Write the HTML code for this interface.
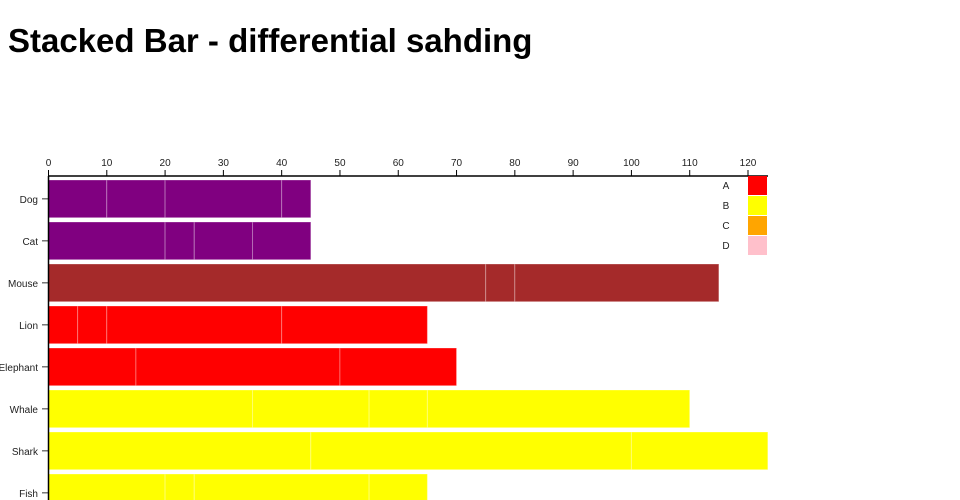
<!DOCTYPE html>
<html><head><meta charset="utf-8"><style>
body{margin:0;width:960px;height:500px;overflow:hidden;background:#fff;font-family:"Liberation Sans",sans-serif}
h1{position:absolute;left:8px;top:22px;margin:0;font-size:33px;font-weight:bold;color:#000}
svg{position:absolute;left:0;top:0}
</style></head><body>
<h1>Stacked Bar - differential sahding</h1>
<svg id="c" width="960" height="500"></svg>
<script>
const categories=["Dog","Cat","Mouse","Lion","Elephant","Whale","Shark","Fish"];
const colors=["purple","purple","brown","red","red","yellow","yellow","yellow"];
const segments=[[10,10,20,5],[20,5,10,10],[75,5,35],[5,5,30,25],[15,35,20],[35,20,10,45],[45,55,23.4],[20,5,30,10]];
const ticks=[0,10,20,30,40,50,60,70,80,90,100,110,120];
const legendLabels=["A","B","C","D"];
const legendColors=["red","yellow","orange","pink"];
const NS="http://www.w3.org/2000/svg";
const svg=document.getElementById('c');
const x0=48.5,k=699.5/120,y0=180,step=42,bh=37.7,axisY=176;
const X=v=>x0+v*k, Y=i=>y0+i*step;
function mk(t,a,p){const e=document.createElementNS(NS,t);for(const n in a)e.setAttribute(n,a[n]);(p||svg).appendChild(e);return e;}
categories.forEach((c,i)=>{
  let acc=0;
  segments[i].forEach((v,j)=>{
    const r=mk('rect',{x:X(acc),y:Y(i),width:v*k,height:bh,fill:colors[i],stroke:'rgba(255,255,255,0.3)','stroke-width':1});
    
    
    acc+=v;
  });
  const t=mk('text',{x:38,y:Y(i)+bh/2+4,'text-anchor':'end','font-size':10,fill:'#222'});
  t.textContent=c;
  
  
  mk('line',{x1:42,x2:48,y1:Y(i)+bh/2,y2:Y(i)+bh/2,stroke:'#333'});
});
mk('line',{x1:48,x2:768,y1:axisY,y2:axisY,stroke:'#000','stroke-width':1.5});
mk('line',{x1:48.5,x2:48.5,y1:axisY,y2:500,stroke:'#000','stroke-width':1.5});
ticks.forEach(v=>{
  mk('line',{x1:X(v),x2:X(v),y1:axisY-6,y2:axisY,stroke:'#000'});
  const t=mk('text',{x:X(v),y:axisY-10,'text-anchor':'middle','font-size':10,fill:'#222'});
  t.textContent=v;
  
  
});
legendLabels.forEach((l,i)=>{
  const r=mk('rect',{x:748,y:176+i*20,width:19,height:19,fill:legendColors[i]});
  
  
  const t=mk('text',{x:726,y:189+i*20,'text-anchor':'middle','font-size':10,fill:'#222'});
  t.textContent=l;
  
  
});
</script>
</body></html>
